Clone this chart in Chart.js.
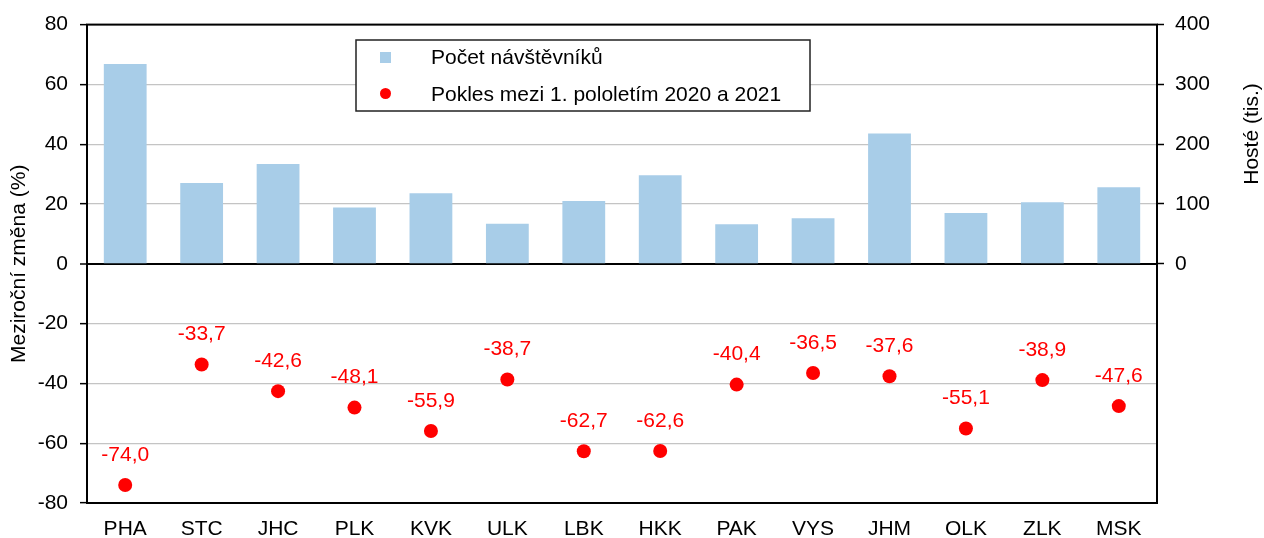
<!DOCTYPE html>
<html>
<head>
<meta charset="utf-8">
<script src="https://cdn.jsdelivr.net/npm/chart.js@4.4.0/dist/chart.umd.min.js"></script>
<style>
  html, body { margin: 0; padding: 0; background: #fff; }
  #wrap { width: 1264px; height: 538px; }
</style>
</head>
<body>
<div id="wrap"><canvas id="chart" width="1264" height="538"></canvas></div>
<script>
// kraje
const kraje = ['PHA', 'STC', 'JHC', 'PLK', 'KVK', 'ULK', 'LBK', 'HKK', 'PAK', 'VYS', 'JHM', 'OLK', 'ZLK', 'MSK'];
// počet návštěvníků (tis.) - pravá osa
const navstevnici = [334, 135, 167, 94, 118, 67, 105, 148, 66, 76, 218, 85, 103, 128];
// pokles mezi 1. pololetím 2020 a 2021 (%) - levá osa
const pokles = [-74.0, -33.7, -42.6, -48.1, -55.9, -38.7, -62.7, -62.6, -40.4, -36.5, -37.6, -55.1, -38.9, -47.6];

const popisky = ['Počet návštěvníků', 'Pokles mezi 1. pololetím 2020 a 2021'];
const FONT = '"Liberation Sans", Arial, sans-serif';
const VEL = 21;
const MODRA = '#a8cde8';
const CERVENA = '#ff0000';

Chart.defaults.font.family = FONT;
Chart.defaults.font.size = VEL;
Chart.defaults.color = '#000';

// rámeček, legenda, popisky bodů a titulek pravé osy
const doplnky = {
  id: 'doplnky',
  afterDatasetsDraw(chart) {
    const ctx = chart.ctx;
    const meta = chart.getDatasetMeta(1);
    ctx.save();
    ctx.fillStyle = CERVENA;
    ctx.font = VEL + 'px ' + FONT;
    ctx.textAlign = 'center';
    ctx.textBaseline = 'middle';
    meta.data.forEach((pt, i) => {
      ctx.fillText(pokles[i].toFixed(1).replace('.', ','), pt.x, pt.y - 30);
    });
    ctx.restore();
  },
  afterDraw(chart) {
    const ctx = chart.ctx;
    const a = chart.chartArea;
    ctx.save();
    ctx.strokeStyle = '#000';
    ctx.lineWidth = 2;
    ctx.strokeRect(a.left, a.top, a.right - a.left, a.bottom - a.top);

    // legenda
    ctx.fillStyle = '#fff';
    ctx.fillRect(356, 40, 454, 71);
    ctx.lineWidth = 1.5;
    ctx.strokeStyle = '#222';
    ctx.strokeRect(356, 40, 454, 71);
    ctx.fillStyle = MODRA;
    ctx.fillRect(380, 52, 11, 11);
    ctx.fillStyle = CERVENA;
    ctx.beginPath();
    ctx.arc(385.5, 93.5, 5.5, 0, Math.PI * 2);
    ctx.fill();
    ctx.fillStyle = '#000';
    ctx.font = VEL + 'px ' + FONT;
    ctx.textBaseline = 'middle';
    ctx.textAlign = 'left';
    ctx.fillText(popisky[0], 431, 58);
    ctx.fillText(popisky[1], 431, 95);

    // titulek pravé osy
    ctx.translate(1252, 134);
    ctx.rotate(-Math.PI / 2);
    ctx.textAlign = 'center';
    ctx.fillText('Hosté (tis.)', 0, 0);
    ctx.restore();
  }
};

new Chart(document.getElementById('chart').getContext('2d'), {
  type: 'bar',
  data: {
    labels: kraje,
    datasets: [{
      label: popisky[0],
      data: navstevnici,
      yAxisID: 'y1',
      backgroundColor: MODRA,
      barPercentage: 0.56,
      categoryPercentage: 1,
      order: 2
    }, {
      type: 'line',
      label: popisky[1],
      data: pokles,
      yAxisID: 'y',
      showLine: false,
      pointRadius: 7,
      pointBackgroundColor: CERVENA,
      pointBorderColor: CERVENA,
      pointBorderWidth: 0,
      order: 1
    }]
  },
  options: {
    responsive: false,
    animation: false,
    layout: { padding: { top: 23, left: 0, right: 0, bottom: 0 } },
    plugins: {
      legend: { display: false },
      tooltip: { enabled: false }
    },
    scales: {
      x: {
        grid: { display: false, drawTicks: false },
        border: { display: false },
        ticks: { padding: 14 },
        afterFit(s) { s.height = 35; }
      },
      y: {
        position: 'left',
        min: -80,
        max: 80,
        ticks: { stepSize: 20, padding: 12 },
        grid: {
          color: c => c.tick && c.tick.value === 0 ? '#000' : '#c4c4c4',
          lineWidth: c => c.tick && c.tick.value === 0 ? 2 : 1.3,
          tickColor: '#000',
          tickLength: 7,
          tickWidth: 1.5
        },
        border: { display: false },
        title: {
          display: true,
          text: 'Meziroční změna (%)',
          padding: { top: 7, bottom: 0 }
        },
        afterFit(s) { s.width = 87; }
      },
      y1: {
        position: 'right',
        min: -400,
        max: 400,
        ticks: {
          stepSize: 100,
          padding: 11,
          callback: v => v < 0 ? null : v
        },
        grid: {
          drawOnChartArea: false,
          tickColor: '#000',
          tickLength: 7,
          tickWidth: 1.5
        },
        border: { display: false },
        afterFit(s) { s.width = 107; }
      }
    }
  },
  plugins: [doplnky]
});
</script>
</body>
</html>
